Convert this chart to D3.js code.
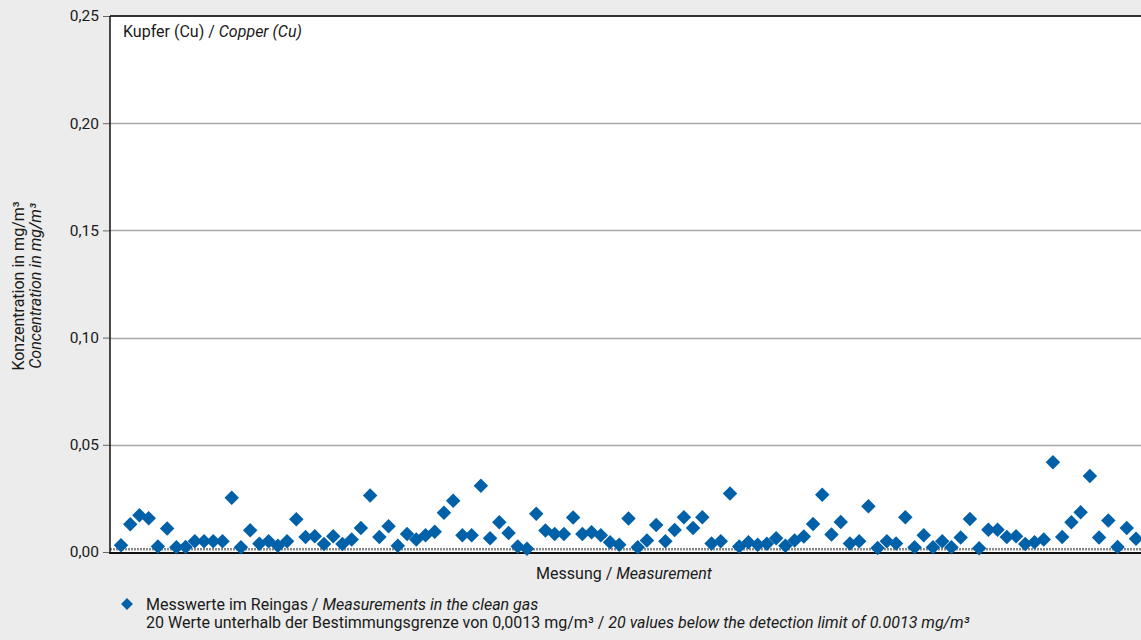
<!DOCTYPE html>
<meta charset="utf-8">
<script src="https://d3js.org/d3.v7.min.js"></script>
<style>
    body { margin: 0; background: #ebeceb; }
    svg text { font-family: "Roboto", "Liberation Sans", sans-serif; fill: #1a1a1a; }
</style>

<div id="chart"></div>

<script>
    // measured copper values in clean gas, mg/m3, in measurement order
    var copper = [
        0.0031, 0.0129, 0.0171, 0.0157, 0.0026, 0.0110, 0.0022, 0.0023, 0.0050, 0.0050,
        0.0050, 0.0050, 0.0253, 0.0022, 0.0101, 0.0039, 0.0050, 0.0029, 0.0050, 0.0153,
        0.0070, 0.0073, 0.0037, 0.0073, 0.0037, 0.0058, 0.0112, 0.0264, 0.0070, 0.0120,
        0.0029, 0.0084, 0.0058, 0.0078, 0.0095, 0.0183, 0.0239, 0.0078, 0.0078, 0.0309,
        0.0064, 0.0139, 0.0089, 0.0026, 0.0015, 0.0178, 0.0100, 0.0084, 0.0084, 0.0161,
        0.0084, 0.0092, 0.0078, 0.0045, 0.0034, 0.0156, 0.0022, 0.0054, 0.0126, 0.0050,
        0.0103, 0.0162, 0.0112, 0.0162, 0.0040, 0.0050, 0.0273, 0.0026, 0.0045, 0.0034,
        0.0039, 0.0064, 0.0029, 0.0054, 0.0072, 0.0131, 0.0267, 0.0082, 0.0140, 0.0040,
        0.0050, 0.0213, 0.0019, 0.0050, 0.0040, 0.0162, 0.0022, 0.0078, 0.0022, 0.0050,
        0.0022, 0.0068, 0.0154, 0.0017, 0.0104, 0.0104, 0.0070, 0.0073, 0.0037, 0.0045,
        0.0058, 0.0419, 0.0070, 0.0139, 0.0185, 0.0354, 0.0068, 0.0147, 0.0023, 0.0112,
        0.0062
    ];
    var yTicks = [0, 0.05, 0.10, 0.15, 0.20, 0.25];
    var detectionLimit = 0.0013;

    var titleDe = "Kupfer (Cu) / ", titleEn = "Copper (Cu)";
    var yLabelDe = "Konzentration in mg/m³", yLabelEn = "Concentration in mg/m³";
    var xLabelDe = "Messung / ", xLabelEn = "Measurement";
    var legendDe = "Messwerte im Reingas / ", legendEn = "Measurements in the clean gas";
    var noteDe = "20 Werte unterhalb der Bestimmungsgrenze von 0,0013 mg/m³ / ",
        noteEn = "20 values below the detection limit of 0.0013 mg/m³";

    var W = 1141, H = 640;
    var plot = {left: 110, right: 1141, top: 16, bottom: 552};
    var blue = "#0061a9";

    var svg = d3.select("#chart").append("svg")
        .attr("width", W).attr("height", H);

    var y = d3.scaleLinear().domain([0, 0.25]).range([plot.bottom, plot.top]);
    var x = d3.scaleLinear().domain([0, copper.length - 1]).range([121, 1136]);

    // white plot area
    svg.append("rect")
        .attr("x", plot.left).attr("y", plot.top)
        .attr("width", plot.right - plot.left).attr("height", plot.bottom - plot.top)
        .attr("fill", "#fff");

    // grid lines
    svg.append("g").selectAll("line")
        .data(yTicks.filter(function(d) { return d > 0 && d < 0.25; }))
        .enter().append("line")
        .attr("x1", plot.left).attr("x2", plot.right)
        .attr("y1", function(d) { return Math.round(y(d)) + 0.5; })
        .attr("y2", function(d) { return Math.round(y(d)) + 0.5; })
        .attr("stroke", "#a8a8a8").attr("stroke-width", 1.5);

    // top border
    svg.append("line")
        .attr("x1", plot.left).attr("x2", plot.right)
        .attr("y1", y(0.25)).attr("y2", y(0.25))
        .attr("stroke", "#333").attr("stroke-width", 2);

    // detection limit line
    svg.append("line")
        .attr("x1", plot.left).attr("x2", plot.right)
        .attr("y1", y(detectionLimit)).attr("y2", y(detectionLimit))
        .attr("stroke", "#8a8a8a").attr("stroke-width", 2.5)
        .attr("stroke-dasharray", "2,1");

    // y axis
    var yAxis = svg.append("g")
        .attr("transform", "translate(" + plot.left + ",0)")
        .call(d3.axisLeft(y).tickValues(yTicks).tickSize(7).tickPadding(4)
            .tickFormat(function(d) { return d3.format(".2f")(d).replace(".", ","); }));
    yAxis.select(".domain").remove();
    yAxis.selectAll(".tick line").attr("stroke", "#666");
    yAxis.selectAll("text").style("font-size", "15.5px").attr("fill", "#1a1a1a");
    svg.append("line")
        .attr("x1", plot.left).attr("x2", plot.left)
        .attr("y1", plot.top).attr("y2", plot.bottom + 1)
        .attr("stroke", "#111").attr("stroke-width", 1.5);

    // x axis baseline
    svg.append("line")
        .attr("x1", plot.left - 1).attr("x2", plot.right)
        .attr("y1", plot.bottom + 1).attr("y2", plot.bottom + 1)
        .attr("stroke", "#111").attr("stroke-width", 2);

    // diamonds
    var diamond = d3.symbol().type(d3.symbolSquare).size(105);
    svg.append("g").selectAll("path")
        .data(copper)
        .enter().append("path")
        .attr("d", diamond)
        .attr("transform", function(d, i) { return "translate(" + x(i) + "," + y(d) + ") rotate(45)"; })
        .attr("fill", blue);

    function mixed(sel, de, en) {
        sel.append("tspan").text(de);
        sel.append("tspan").style("font-style", "italic").text(en);
        return sel;
    }

    // title
    mixed(svg.append("text").attr("x", 123).attr("y", 37).style("font-size", "16px"), titleDe, titleEn);

    // y axis title
    var yt = svg.append("g").attr("transform", "translate(0,286) rotate(-90)");
    yt.append("text").attr("x", 0).attr("y", 24).attr("text-anchor", "middle")
        .style("font-size", "16px").text(yLabelDe);
    yt.append("text").attr("x", 0).attr("y", 41).attr("text-anchor", "middle")
        .style("font-size", "16px").style("font-style", "italic").text(yLabelEn);

    // x axis title
    mixed(svg.append("text").attr("x", 624).attr("y", 579).attr("text-anchor", "middle")
        .style("font-size", "16px"), xLabelDe, xLabelEn);

    // legend
    svg.append("path")
        .attr("d", d3.symbol().type(d3.symbolSquare).size(70))
        .attr("transform", "translate(127,604) rotate(45)")
        .attr("fill", blue);
    mixed(svg.append("text").attr("x", 146).attr("y", 610).style("font-size", "16px"), legendDe, legendEn);
    mixed(svg.append("text").attr("x", 146).attr("y", 628).style("font-size", "16px"), noteDe, noteEn);
</script>
